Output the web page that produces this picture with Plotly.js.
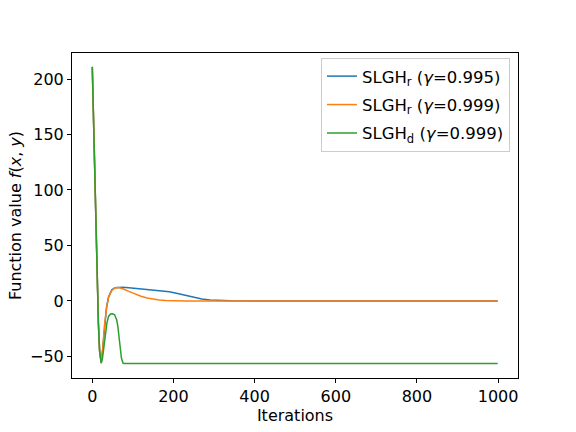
<!DOCTYPE html>
<html>
<head>
<meta charset="utf-8">
<script src="https://cdn.plot.ly/plotly-3.0.1.min.js"></script>
<style>
  html, body { margin: 0; padding: 0; background: white; }
  #chart { width: 576px; height: 432px; }
</style>
</head>
<body>
<div id="chart"></div>
<script>
// values
var iterBlue = [0, 3, 6, 9, 12, 15, 18, 22, 26, 30, 35, 40, 48, 56, 65, 75, 90, 110, 140, 170, 190, 210, 230, 250, 270, 290, 310, 340, 400, 600, 800, 999];
var valBlue  = [211, 160, 110, 60, 22, -20, -45, -56, -42, -22, -6, 3.5, 10, 11.8, 12.2, 12.3, 11.8, 11.2, 10.3, 9.2, 8.2, 6.6, 4.8, 3.0, 1.7, 0.8, 0.3, 0.05, 0, 0, 0, 0];

var iterOrange = [0, 3, 6, 9, 12, 15, 18, 22, 26, 30, 35, 40, 48, 56, 65, 75, 90, 105, 120, 135, 150, 165, 180, 200, 230, 300, 600, 999];
var valOrange  = [211, 160, 110, 60, 22, -20, -45, -56, -42, -22, -7, 3.0, 9.5, 11.8, 12.0, 11.0, 8.6, 6.2, 4.2, 2.6, 1.5, 0.8, 0.35, 0.1, 0, 0, 0, 0];

var iterGreen = [0, 3, 6, 9, 12, 15, 18, 22, 25, 28, 32, 36, 40, 45, 50, 55, 60, 63, 66, 69, 72, 76, 80, 100, 300, 600, 999];
var valGreen  = [211, 160, 110, 60, 22, -20, -45, -56, -52, -44, -30, -20, -14, -11.8, -11.5, -12.5, -17, -23, -33, -44, -52, -56.3, -56.5, -56.5, -56.5, -56.5, -56.5];

var seriesNames = [
  'SLGH<sub>r</sub> (<i>γ</i>=0.995)',
  'SLGH<sub>r</sub> (<i>γ</i>=0.999)',
  'SLGH<sub>d</sub> (<i>γ</i>=0.999)'
];
var seriesColors = ['#1f77b4', '#ff7f0e', '#2ca02c'];

var xTicks = [0, 200, 400, 600, 800, 1000];
var yTicks = [-50, 0, 50, 100, 150, 200];

var FONT = 'DejaVu Sans, sans-serif';

function lineTrace(x, y, i) {
  return {
    x: x,
    y: y,
    mode: 'lines',
    name: seriesNames[i],
    legendgroup: 'g' + i,
    line: {color: seriesColors[i], width: 1.5},
    hoverinfo: 'skip'
  };
}

var traces = [
  lineTrace(iterBlue, valBlue, 0),
  lineTrace(iterOrange, valOrange, 1),
  lineTrace(iterGreen, valGreen, 2)
];

var axisCommon = {
  showgrid: false,
  zeroline: false,
  showline: true,
  linecolor: 'black',
  linewidth: 1,
  mirror: true,
  ticks: 'outside',
  ticklen: 4,
  tickwidth: 1,
  tickcolor: 'black',
  tickfont: {family: FONT, size: 16, color: 'black'}
};

var layout = {
  width: 576,
  height: 432,
  plot_bgcolor: 'white',
  paper_bgcolor: 'white',
  margin: {l: 72, r: 58, t: 53, b: 54},
  font: {family: FONT, size: 16, color: 'black'},
  xaxis: Object.assign({}, axisCommon, {
    range: [-50, 1049],
    tickvals: xTicks,
    ticktext: xTicks.map(String),
    title: {text: 'Iterations', font: {family: FONT, size: 16}, standoff: 0}
  }),
  yaxis: Object.assign({}, axisCommon, {
    range: [-69.5, 223.5],
    tickvals: yTicks,
    ticktext: yTicks.map(function (v) { return v < 0 ? '\u2212' + Math.abs(v) : String(v); }),
    title: {text: 'Function value <i>f</i>(<i>x</i>, <i>y</i>)', font: {family: FONT, size: 16}, standoff: 4}
  }),
  showlegend: true,
  legend: {
    x: 0.982,
    y: 0.985,
    xanchor: 'right',
    yanchor: 'top',
    tracegroupgap: 4,
    bgcolor: 'rgba(255,255,255,0.8)',
    bordercolor: '#cccccc',
    borderwidth: 1,
    font: {family: FONT, size: 16.5, color: 'black'}
  }
};

Plotly.newPlot('chart', traces, layout, {displayModeBar: false, staticPlot: true});
</script>
</body>
</html>
